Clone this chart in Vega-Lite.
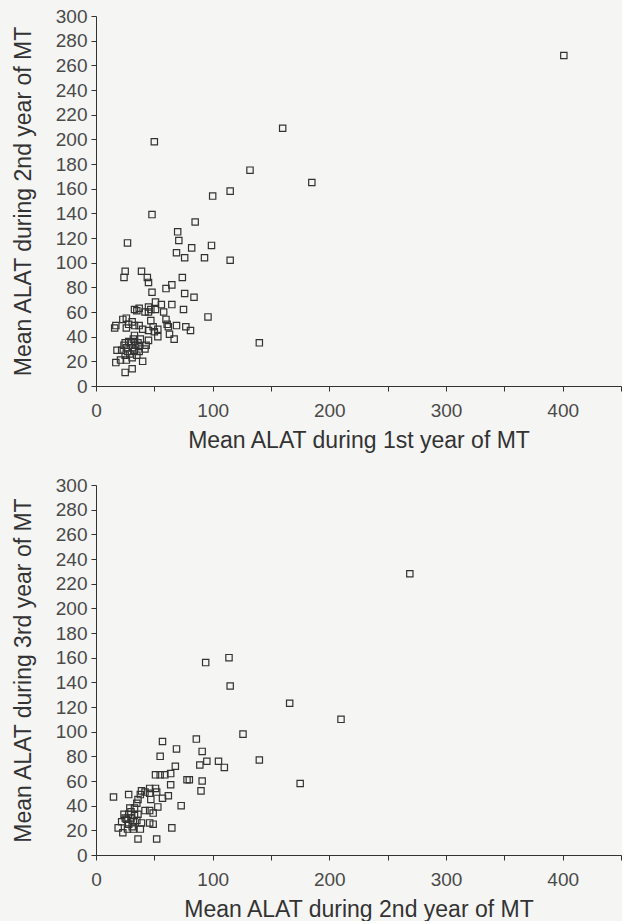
{
  "$schema": "https://vega.github.io/schema/vega-lite/v6.json",
  "background": "#f5f5f3",
  "padding": {"left": 12, "top": 7, "right": 0, "bottom": 0},
  "spacing": 24,
  "config": {
    "view": {"stroke": null},
    "font": "Liberation Sans",
    "axis": {
      "grid": false,
      "domainColor": "#333333",
      "tickColor": "#333333",
      "labelColor": "#4a4a4a",
      "titleColor": "#333333",
      "labelFontSize": 19,
      "titleFontSize": 23,
      "titleFontWeight": "normal",
      "tickSize": 5,
      "labelFlush": false,
      "labelOverlap": false
    },
    "axisX": {"labelPadding": 10, "titlePadding": 9},
    "axisY": {"labelPadding": 4, "titlePadding": 20}
  },
  "datasets": {
    "top": [
      {"x":401,"y":268},{"x":160,"y":209},{"x":50,"y":198},{"x":132,"y":175},{"x":185,"y":165},{"x":115,"y":158},{"x":100,"y":154},{"x":48,"y":139},{"x":85,"y":133},{"x":70,"y":125},{"x":71,"y":118},{"x":27,"y":116},{"x":99,"y":114},{"x":82,"y":112},{"x":69,"y":108},{"x":76,"y":104},{"x":93,"y":104},{"x":115,"y":102},
      {"x":25,"y":93},{"x":24,"y":88},{"x":39,"y":93},{"x":44,"y":88},{"x":45,"y":84},{"x":74,"y":88},{"x":65,"y":82},{"x":60,"y":79},{"x":48,"y":76},{"x":76,"y":75},{"x":84,"y":72},{"x":51,"y":68},{"x":56,"y":66},{"x":65,"y":66},{"x":75,"y":62},{"x":96,"y":56},{"x":140,"y":35},
      {"x":35,"y":61},{"x":37,"y":63},{"x":33,"y":62},{"x":45,"y":64},{"x":42,"y":60},{"x":47,"y":62},{"x":51,"y":62},{"x":58,"y":60},{"x":45,"y":60},
      {"x":23,"y":54},{"x":26,"y":55},{"x":17,"y":49},{"x":16,"y":47},{"x":31,"y":52},{"x":28,"y":50},{"x":33,"y":49},{"x":37,"y":49},{"x":40,"y":46},{"x":26,"y":47},{"x":47,"y":53},{"x":49,"y":48},{"x":45,"y":45},{"x":53,"y":46},{"x":61,"y":50},{"x":60,"y":54},{"x":63,"y":42},{"x":67,"y":38},{"x":50,"y":44},{"x":53,"y":40},{"x":69,"y":49},{"x":77,"y":48},{"x":81,"y":45},{"x":62,"y":48},
      {"x":33,"y":41},{"x":32,"y":38},{"x":25,"y":35},{"x":28,"y":36},{"x":33,"y":36},{"x":36,"y":35},{"x":45,"y":37},{"x":26,"y":31},{"x":31,"y":31},{"x":37,"y":32},{"x":18,"y":29},{"x":22,"y":29},{"x":27,"y":28},{"x":33,"y":29},{"x":37,"y":28},{"x":42,"y":30},{"x":43,"y":33},{"x":25,"y":25},{"x":31,"y":23},{"x":35,"y":25},{"x":17,"y":19},{"x":21,"y":21},{"x":26,"y":21},{"x":40,"y":20},{"x":31,"y":14},{"x":25,"y":11},{"x":29,"y":26},{"x":34,"y":33},{"x":30,"y":35},{"x":38,"y":38},{"x":24,"y":33}
    ],
    "bottom": [
      {"x":269,"y":228},{"x":114,"y":160},{"x":94,"y":156},{"x":115,"y":137},{"x":166,"y":123},{"x":210,"y":110},{"x":126,"y":98},{"x":86,"y":94},{"x":57,"y":92},{"x":69,"y":86},{"x":91,"y":84},{"x":55,"y":80},{"x":140,"y":77},{"x":95,"y":76},{"x":105,"y":76},{"x":110,"y":71},{"x":89,"y":73},{"x":68,"y":72},{"x":175,"y":58},{"x":78,"y":61},{"x":80,"y":61},{"x":91,"y":60},{"x":90,"y":52},{"x":73,"y":40},{"x":65,"y":22},{"x":52,"y":13},{"x":36,"y":13},{"x":15,"y":47},{"x":28,"y":49},
      {"x":51,"y":65},{"x":55,"y":65},{"x":59,"y":65},{"x":64,"y":66},{"x":64,"y":57},{"x":62,"y":48},{"x":57,"y":46},
      {"x":39,"y":52},{"x":46,"y":54},{"x":51,"y":54},{"x":38,"y":49},{"x":42,"y":51},{"x":36,"y":45},{"x":35,"y":42},{"x":33,"y":38},{"x":46,"y":50},{"x":52,"y":51},{"x":47,"y":45},{"x":42,"y":36},{"x":46,"y":36},{"x":49,"y":34},{"x":53,"y":39},
      {"x":24,"y":33},{"x":28,"y":33},{"x":26,"y":29},{"x":19,"y":22},{"x":23,"y":18},{"x":27,"y":21},{"x":32,"y":21},{"x":39,"y":26},{"x":46,"y":26},{"x":49,"y":25},{"x":38,"y":21},{"x":32,"y":27},{"x":28,"y":25},{"x":30,"y":30},{"x":33,"y":32},{"x":35,"y":28},{"x":30,"y":35},{"x":25,"y":30},{"x":22,"y":27},{"x":31,"y":23},{"x":36,"y":33},{"x":29,"y":38}
    ]
  },
  "vconcat": [
    {
      "data": {"name": "top"},
      "width": 525,
      "height": 370,
      "mark": {"type": "point", "shape": "square", "filled": false, "size": 40, "strokeWidth": 1.2, "color": "#333333", "opacity": 1},
      "encoding": {
        "x": {"field": "x", "type": "quantitative", "scale": {"domain": [0, 450], "nice": false, "zero": true},
          "axis": {"title": "Mean ALAT during 1st year of MT", "values": [0,50,100,150,200,250,300,350,400,450], "labelExpr": "datum.value % 100 === 0 && datum.value < 450 ? datum.label : ''"}},
        "y": {"field": "y", "type": "quantitative", "scale": {"domain": [0, 300], "nice": false},
          "axis": {"title": "Mean ALAT during 2nd year of MT", "values": [0,20,40,60,80,100,120,140,160,180,200,220,240,260,280,300]}}
      }
    },
    {
      "data": {"name": "bottom"},
      "width": 525,
      "height": 370,
      "mark": {"type": "point", "shape": "square", "filled": false, "size": 40, "strokeWidth": 1.2, "color": "#333333", "opacity": 1},
      "encoding": {
        "x": {"field": "x", "type": "quantitative", "scale": {"domain": [0, 450], "nice": false, "zero": true},
          "axis": {"title": "Mean ALAT during 2nd year of MT", "values": [0,50,100,150,200,250,300,350,400,450], "labelExpr": "datum.value % 100 === 0 && datum.value < 450 ? datum.label : ''"}},
        "y": {"field": "y", "type": "quantitative", "scale": {"domain": [0, 300], "nice": false},
          "axis": {"title": "Mean ALAT during 3rd year of MT", "values": [0,20,40,60,80,100,120,140,160,180,200,220,240,260,280,300]}}
      }
    }
  ]
}
